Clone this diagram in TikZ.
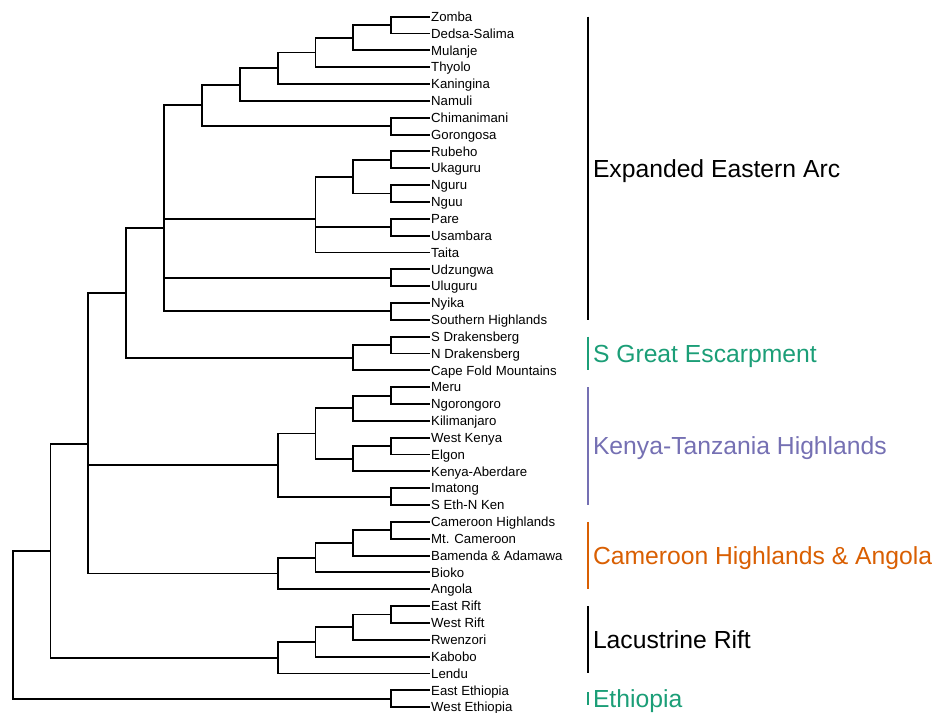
\documentclass[tikz,border=0pt]{standalone}
\usepackage{fontspec}
\setmainfont{Liberation Sans}
\usetikzlibrary{calc}
\definecolor{escgreen}{HTML}{1B9E77}
\definecolor{ktpurple}{HTML}{7570B3}
\definecolor{camorange}{HTML}{D95F02}
\tikzset{
  leaf/.style={anchor=west, inner xsep=2pt, inner ysep=0pt,
               text height=9.4pt, text depth=0pt,
               font=\fontsize{13.2}{14}\selectfont},
  branch/.style={line width=1.9pt, line cap=rect, color=black},
  cbar/.style={line width=1.9pt},
  clade/.style={anchor=west, inner sep=0pt, xshift=4.5pt,
                text height=17.7pt, text depth=0pt,
                font=\fontsize{24.7}{26}\selectfont},
}
\begin{document}
\begin{tikzpicture}[x=1pt,y=-1pt]
  \useasboundingbox (0,0) rectangle (942,712);
  % tips
  \foreach \nm/\txt [count=\i] in {zomba/Zomba, dedsa/Dedsa-Salima, mulanje/Mulanje,
      thyolo/Thyolo, kaningina/Kaningina, namuli/Namuli, chimanimani/Chimanimani,
      gorongosa/Gorongosa, rubeho/Rubeho, ukaguru/Ukaguru, nguru/Nguru, nguu/Nguu,
      pare/Pare, usambara/Usambara, taita/Taita, udzungwa/Udzungwa, uluguru/Uluguru,
      nyika/Nyika, shigh/Southern Highlands, sdrak/S Drakensberg, ndrak/N Drakensberg,
      capefold/Cape Fold Mountains, meru/Meru, ngoro/Ngorongoro, kili/Kilimanjaro,
      wkenya/West Kenya, elgon/Elgon, aberdare/Kenya-Aberdare, imatong/Imatong,
      sethnken/S Eth-N Ken, camhigh/Cameroon Highlands, mtcam/Mt. Cameroon,
      bamenda/Bamenda \& Adamawa, bioko/Bioko, angola/Angola, erift/East Rift,
      wrift/West Rift, rwenzori/Rwenzori, kabobo/Kabobo, lendu/Lendu,
      eeth/East Ethiopia, weth/West Ethiopia}
    \node[leaf] (\nm) at (429,{16.7+(\i-1)*16.84}) {\txt};
  % internal nodes
  \coordinate (zd) at (391.15,25.12);
  \coordinate (zdm) at (353.3,37.75);
  \coordinate (zdmt) at (315.45,52.49);
  \coordinate (zdmtk) at (277.6,68.27);
  \coordinate (zdmtkn) at (239.75,84.59);
  \coordinate (cg) at (391.15,126.16);
  \coordinate (south) at (201.9,105.37);
  \coordinate (ru) at (391.15,159.84);
  \coordinate (nn) at (391.15,193.52);
  \coordinate (runn) at (353.3,176.68);
  \coordinate (pu) at (391.15,227.2);
  \coordinate (arc) at (315.45,218.78);
  \coordinate (uu) at (391.15,277.72);
  \coordinate (ns) at (391.15,311.4);
  \coordinate (eea) at (164.05,228.32);
  \coordinate (dr) at (391.15,345.08);
  \coordinate (sge) at (353.3,357.71);
  \coordinate (eeasge) at (126.2,293.02);
  \coordinate (mn) at (391.15,395.6);
  \coordinate (mnk) at (353.3,408.23);
  \coordinate (we) at (391.15,446.12);
  \coordinate (wek) at (353.3,458.75);
  \coordinate (kenk) at (315.45,433.49);
  \coordinate (imse) at (391.15,496.64);
  \coordinate (kt) at (277.6,465.07);
  \coordinate (cm) at (391.15,530.32);
  \coordinate (cmb) at (353.3,542.95);
  \coordinate (cmbb) at (315.45,557.69);
  \coordinate (cam) at (277.6,573.47);
  \coordinate (mid) at (88.35,443.85);
  \coordinate (er) at (391.15,614.52);
  \coordinate (erw) at (353.3,627.15);
  \coordinate (erwk) at (315.45,641.89);
  \coordinate (lac) at (277.6,657.67);
  \coordinate (main) at (50.5,550.76);
  \coordinate (eth) at (391.15,698.72);
  \coordinate (root) at (12.65,624.74);
  % branches
  \draw[branch] (zd) |- (zomba.west) (zd) |- (dedsa.west);
  \draw[branch] (zdm) |- (zd) (zdm) |- (mulanje.west);
  \draw[branch] (zdmt) |- (zdm) (zdmt) |- (thyolo.west);
  \draw[branch] (zdmtk) |- (zdmt) (zdmtk) |- (kaningina.west);
  \draw[branch] (zdmtkn) |- (zdmtk) (zdmtkn) |- (namuli.west);
  \draw[branch] (cg) |- (chimanimani.west) (cg) |- (gorongosa.west);
  \draw[branch] (south) |- (zdmtkn) (south) |- (cg);
  \draw[branch] (ru) |- (rubeho.west) (ru) |- (ukaguru.west);
  \draw[branch] (nn) |- (nguru.west) (nn) |- (nguu.west);
  \draw[branch] (runn) |- (ru) (runn) |- (nn);
  \draw[branch] (pu) |- (pare.west) (pu) |- (usambara.west);
  \draw[branch] (arc) |- (runn) (arc) |- (pu) (arc) |- (taita.west);
  \draw[branch] (uu) |- (udzungwa.west) (uu) |- (uluguru.west);
  \draw[branch] (ns) |- (nyika.west) (ns) |- (shigh.west);
  \draw[branch] (eea) |- (south) (eea) |- (arc) (eea) |- (uu) (eea) |- (ns);
  \draw[branch] (dr) |- (sdrak.west) (dr) |- (ndrak.west);
  \draw[branch] (sge) |- (dr) (sge) |- (capefold.west);
  \draw[branch] (eeasge) |- (eea) (eeasge) |- (sge);
  \draw[branch] (mn) |- (meru.west) (mn) |- (ngoro.west);
  \draw[branch] (mnk) |- (mn) (mnk) |- (kili.west);
  \draw[branch] (we) |- (wkenya.west) (we) |- (elgon.west);
  \draw[branch] (wek) |- (we) (wek) |- (aberdare.west);
  \draw[branch] (kenk) |- (mnk) (kenk) |- (wek);
  \draw[branch] (imse) |- (imatong.west) (imse) |- (sethnken.west);
  \draw[branch] (kt) |- (kenk) (kt) |- (imse);
  \draw[branch] (cm) |- (camhigh.west) (cm) |- (mtcam.west);
  \draw[branch] (cmb) |- (cm) (cmb) |- (bamenda.west);
  \draw[branch] (cmbb) |- (cmb) (cmbb) |- (bioko.west);
  \draw[branch] (cam) |- (cmbb) (cam) |- (angola.west);
  \draw[branch] (mid) |- (eeasge) (mid) |- (kt) (mid) |- (cam);
  \draw[branch] (er) |- (erift.west) (er) |- (wrift.west);
  \draw[branch] (erw) |- (er) (erw) |- (rwenzori.west);
  \draw[branch] (erwk) |- (erw) (erwk) |- (kabobo.west);
  \draw[branch] (lac) |- (erwk) (lac) |- (lendu.west);
  \draw[branch] (main) |- (mid) (main) |- (lac);
  \draw[branch] (eth) |- (eeth.west) (eth) |- (weth.west);
  \draw[branch] (root) |- (main) (root) |- (eth);
  % clade bars
  \coordinate (barx) at (588.3,0);
  \draw[cbar, black] (zomba -| barx) -- (shigh -| barx);
  \node[clade, text=black] (eealab) at ($(zomba -| barx)!.5!(shigh -| barx)$) {Expanded Eastern Arc};
  \draw[cbar, escgreen] (sdrak -| barx) -- (capefold -| barx);
  \node[clade, text=escgreen] (sgelab) at ($(sdrak -| barx)!.5!(capefold -| barx)$) {S Great Escarpment};
  \draw[cbar, ktpurple] (meru -| barx) -- (sethnken -| barx);
  \node[clade, text=ktpurple] (ktlab) at ($(meru -| barx)!.5!(sethnken -| barx)$) {Kenya-Tanzania Highlands};
  \draw[cbar, camorange] (camhigh -| barx) -- (angola -| barx);
  \node[clade, text=camorange] (camlab) at ($(camhigh -| barx)!.5!(angola -| barx)$) {Cameroon Highlands \& Angola};
  \draw[cbar, black] (erift -| barx) -- (lendu -| barx);
  \node[clade, text=black] (laclab) at ($(erift -| barx)!.5!(lendu -| barx)$) {Lacustrine Rift};
  \draw[cbar, escgreen, shorten <=2pt, shorten >=2pt] (eeth -| barx) -- (weth -| barx);
  \node[clade, text=escgreen] (ethlab) at ($(eeth -| barx)!.5!(weth -| barx)$) {Ethiopia};
\end{tikzpicture}
\end{document}
